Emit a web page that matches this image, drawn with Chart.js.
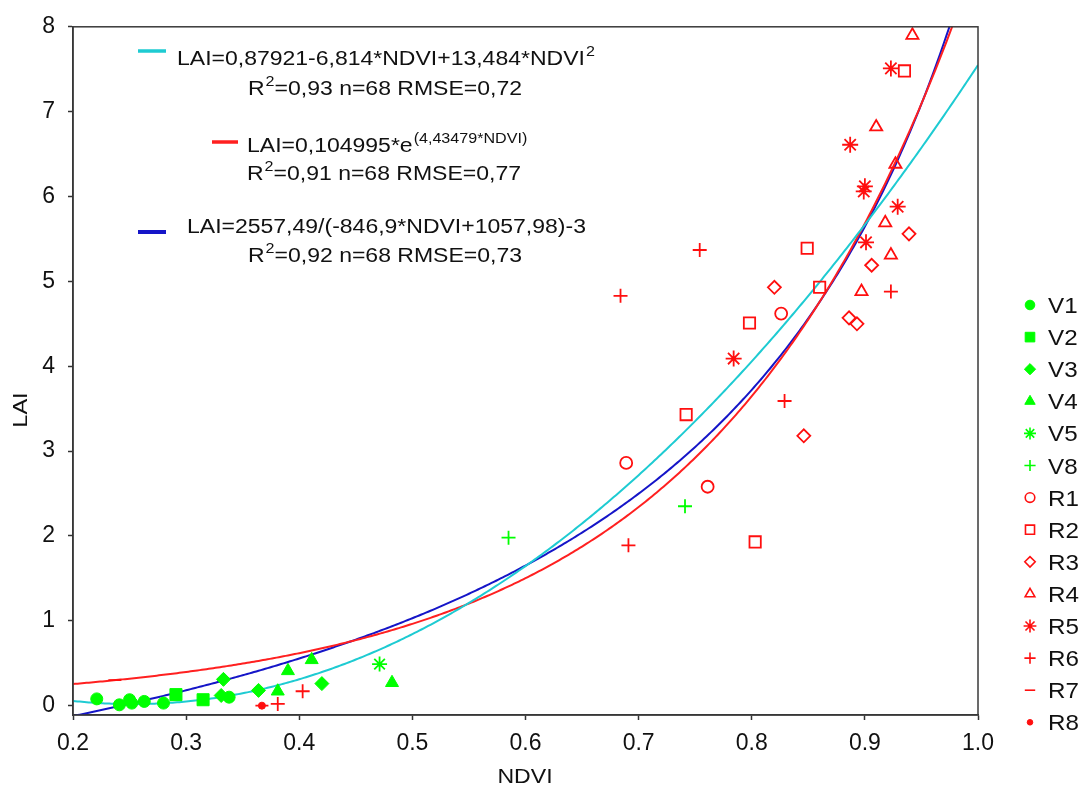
<!DOCTYPE html>
<html><head><meta charset="utf-8">
<script src="https://cdn.jsdelivr.net/npm/chart.js@4/dist/chart.umd.min.js"></script>
<style>html,body{margin:0;padding:0;background:#fff}canvas{display:block}</style>
</head><body>
<canvas id="c" width="1083" height="789"></canvas>
<script>
// ---- data (NDVI, LAI) ----
const seriesNames = ['V1','V2','V3','V4','V5','V8','R1','R2','R3','R4','R5','R6','R7','R8'];
const V1 = [[0.221,0.08],[0.241,0.01],[0.250,0.07],[0.252,0.03],[0.263,0.05],[0.280,0.03],[0.338,0.10]];
const V2 = [[0.291,0.13],[0.315,0.07]];
const V3 = [[0.333,0.31],[0.331,0.12],[0.364,0.18],[0.420,0.26]];
const V4 = [[0.381,0.17],[0.390,0.41],[0.411,0.54],[0.482,0.27]];
const V5 = [[0.471,0.49]];
const V8 = [[0.585,1.98],[0.741,2.35]];
const R1 = [[0.689,2.86],[0.761,2.58],[0.826,4.62]];
const R2 = [[0.935,7.48],[0.849,5.39],[0.860,4.93],[0.798,4.51],[0.742,3.43],[0.803,1.93]];
const R3 = [[0.939,5.56],[0.906,5.19],[0.820,4.93],[0.886,4.57],[0.893,4.50],[0.846,3.18]];
const R4 = [[0.942,7.90],[0.910,6.82],[0.927,6.38],[0.918,5.69],[0.923,5.31],[0.897,4.88]];
const R5 = [[0.923,7.51],[0.887,6.61],[0.900,6.12],[0.899,6.06],[0.929,5.88],[0.901,5.46],[0.784,4.09]];
const R6 = [[0.754,5.37],[0.684,4.83],[0.923,4.88],[0.829,3.59],[0.691,1.89],[0.403,0.17],[0.381,0.02]];
const R7 = [[0.237,0.30],[0.367,0.00]];
const R8 = [[0.367,0.00]];
const seriesData = [V1,V2,V3,V4,V5,V8,R1,R2,R3,R4,R5,R6,R7,R8];

const xTicks = [0.2,0.3,0.4,0.5,0.6,0.7,0.8,0.9,1.0];
const yTicks = [0,1,2,3,4,5,6,7,8];

// fitted models, coefficients as printed on the chart
const quadCoef = [0.87921, -6.814, 13.484];
const expCoef = [0.104995, 4.43479];
const hypCoef = [2557.49, -846.9, 1057.98, -3];

// ---- styles ----
const GREEN = '#00ff00', RED = '#ff0f0f';
const styles = {
  V1:{ps:'circle',r:6,c:GREEN,fill:true},
  V2:{ps:'rect',r:8.5,c:GREEN,fill:true},
  V3:{ps:'rectRot',r:7,c:GREEN,fill:true},
  V4:{ps:'triangle',r:7.5,c:GREEN,fill:true},
  V5:{ps:'star',r:7.5,c:GREEN,fill:false},
  V8:{ps:'cross',r:7,c:GREEN,fill:false},
  R1:{ps:'circle',r:6,c:RED,fill:false},
  R2:{ps:'rect',r:8,c:RED,fill:false},
  R3:{ps:'rectRot',r:6.5,c:RED,fill:false},
  R4:{ps:'triangle',r:7,c:RED,fill:false},
  R5:{ps:'star',r:8,c:RED,fill:false},
  R6:{ps:'cross',r:7,c:RED,fill:false},
  R7:{ps:'line',r:6.5,c:RED,fill:false},
  R8:{ps:'circle',r:3.5,c:RED,fill:true}
};

function curve(fn){
  const pts=[];
  for(let i=0;i<=400;i++){const x=0.2+i*0.002; pts.push({x:x,y:fn(x)});}
  return pts;
}
const quadFn = x => quadCoef[0]+quadCoef[1]*x+quadCoef[2]*x*x;
const expFn = x => expCoef[0]*Math.exp(expCoef[1]*x);
const hypFn = x => hypCoef[0]/(hypCoef[1]*x+hypCoef[2])+hypCoef[3];

const datasets = seriesNames.map((n,i)=>{
  const s = styles[n];
  return {
    label:n, type:'scatter',
    data: seriesData[i].map(p=>({x:p[0],y:p[1]})),
    pointStyle:s.ps, pointRadius:s.r, pointHoverRadius:s.r,
    backgroundColor: s.fill ? s.c : 'rgba(255,255,255,0)',
    borderColor: s.c,
    borderWidth: s.fill ? 1 : 1.8,
    order:0
  };
});
const curveDefs = [
  {label:'quad', fn:quadFn, color:'#1ecbd2'},
  {label:'exp', fn:expFn, color:'#ff2020'},
  {label:'hyp', fn:hypFn, color:'#1515c8'}
];
curveDefs.forEach(cd=>{
  datasets.push({label:cd.label, type:'line', data:curve(cd.fn), borderColor:cd.color,
    borderWidth:2, pointRadius:0, fill:false, tension:0, order:1});
});

const FONT = '"Liberation Sans", Arial, sans-serif';

function stretchedText(ctx, txt, x, y, size, sx){
  ctx.save();
  ctx.font = size+'px '+FONT;
  ctx.translate(x,y); ctx.scale(sx,1);
  ctx.fillText(txt,0,0);
  const w = ctx.measureText(txt).width*sx;
  ctx.restore();
  return w;
}
function richText(ctx, parts, x, y){
  let cx = x;
  parts.forEach(p=>{
    if(p[1]) cx += stretchedText(ctx, p[0], cx+1, y-9, 14, 1.15)+1;
    else cx += stretchedText(ctx, p[0], cx, y, 20, 1.15);
  });
}

const overlay = {
  id:'overlay',
  afterDatasetsDraw(chart){
    const ctx=chart.ctx, a=chart.chartArea;
    ctx.save();
    ctx.strokeStyle='#3a3a3a'; ctx.lineWidth=1.5;
    ctx.strokeRect(a.left,a.top,a.right-a.left,a.bottom-a.top);
    ctx.restore();
  },
  afterDraw(chart){
    const ctx=chart.ctx;
    ctx.save();
    ctx.fillStyle='#111'; ctx.textBaseline='alphabetic'; ctx.textAlign='left';
    const seg = (x1,x2,y,c,w)=>{ctx.save();ctx.strokeStyle=c;ctx.lineWidth=w;ctx.beginPath();ctx.moveTo(x1,y);ctx.lineTo(x2,y);ctx.stroke();ctx.restore();};
    seg(138,166,51,'#1ecbd2',3.5);
    richText(ctx,[['LAI=0,87921-6,814*NDVI+13,484*NDVI',0],['2',1]],177,65);
    richText(ctx,[['R',0],['2',1],['=0,93 n=68 RMSE=0,72',0]],248,95);
    seg(212,238,142,'#ff2020',3.5);
    richText(ctx,[['LAI=0,104995*e',0],['(4,43479*NDVI)',1]],247,152);
    richText(ctx,[['R',0],['2',1],['=0,91 n=68 RMSE=0,77',0]],247,180);
    seg(138,166,232,'#1515c8',4);
    richText(ctx,[['LAI=2557,49/(-846,9*NDVI+1057,98)-3',0]],187,233);
    richText(ctx,[['R',0],['2',1],['=0,92 n=68 RMSE=0,73',0]],248,262);

    // axis titles
    ctx.textAlign='center';
    ctx.save(); ctx.translate(20,410); ctx.rotate(-Math.PI/2); ctx.scale(1.12,1);
    ctx.font='21px '+FONT; ctx.fillText('LAI',0,7); ctx.restore();
    ctx.save(); ctx.translate(525,783); ctx.scale(1.1,1);
    ctx.font='21px '+FONT; ctx.fillText('NDVI',0,0); ctx.restore();

    // legend of the sample groups
    const lx=1030, tx=1048, y0=305, dy=32.1;
    seriesNames.forEach((n,i)=>{
      const s=styles[n], y=y0+i*dy;
      ctx.save();
      ctx.fillStyle = s.fill ? s.c : 'rgba(255,255,255,0)';
      ctx.strokeStyle = s.c; ctx.lineWidth = s.fill?1:1.6;
      Chart.helpers.drawPoint(ctx,{pointStyle:s.ps,radius:s.r*0.8,rotation:0,borderWidth:ctx.lineWidth},lx,y);
      ctx.restore();
      ctx.textAlign='left'; ctx.fillStyle='#111';
      stretchedText(ctx,n,tx,y+8,22,1.1);
    });
    ctx.restore();
  }
};

new Chart(document.getElementById('c'),{
  type:'scatter',
  data:{datasets:datasets},
  options:{
    responsive:false, animation:false, devicePixelRatio:1,
    layout:{padding:{left:0,right:105,top:19,bottom:0}},
    plugins:{legend:{display:false},tooltip:{enabled:false}},
    scales:{
      x:{type:'linear',min:0.2,max:1.0,
        afterBuildTicks:s=>{s.ticks=xTicks.map(v=>({value:v}));},
        afterFit:s=>{s.height=74;},
        grid:{display:true,drawOnChartArea:false,drawTicks:true,tickLength:5,tickColor:'#333',tickWidth:1.5},
        border:{display:true,color:'#333',width:1.5},
        ticks:{color:'#111',font:{size:23,family:FONT},padding:10,maxRotation:0,
          callback:v=>Number(v).toFixed(1)}},
      y:{type:'linear',min:-0.11,max:8,
        afterBuildTicks:s=>{s.ticks=yTicks.map(v=>({value:v}));},
        afterFit:s=>{s.width=73;},
        grid:{display:true,drawOnChartArea:false,drawTicks:true,tickLength:5,tickColor:'#333',tickWidth:1.5},
        border:{display:true,color:'#333',width:1.5},
        ticks:{color:'#111',font:{size:23,family:FONT},padding:13,
          callback:v=>String(Math.round(v))}}
    }
  },
  plugins:[overlay]
});
</script>
</body></html>
